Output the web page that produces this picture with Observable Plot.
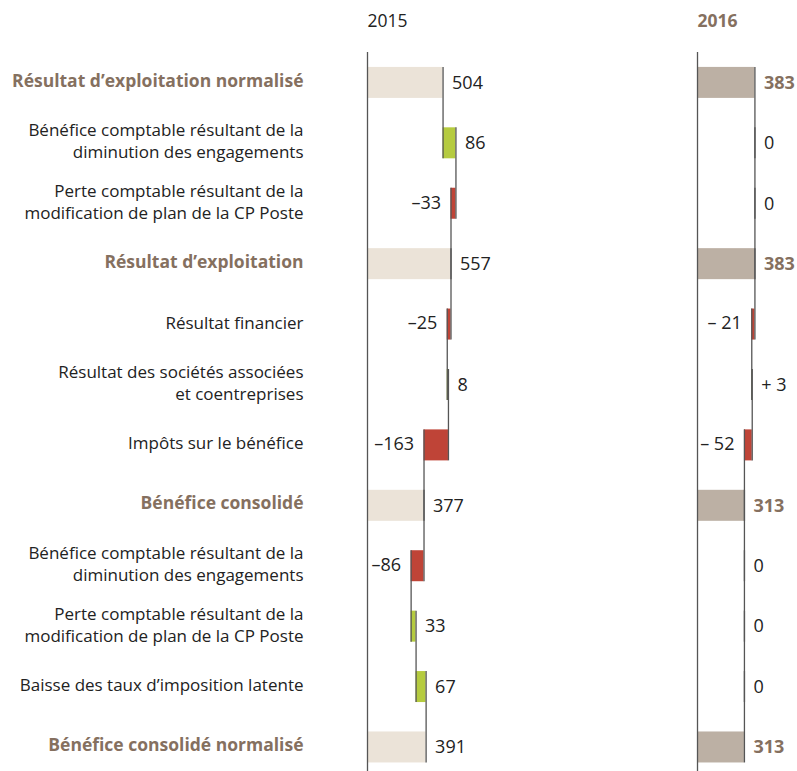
<!DOCTYPE html>
<html>
<head>
<meta charset="utf-8">
<script src="https://cdn.jsdelivr.net/npm/d3@7"></script>
<script src="https://cdn.jsdelivr.net/npm/@observablehq/plot@0.6"></script>
<style>
  html, body { margin: 0; padding: 0; background: #fff; }
  #chart { width: 797px; height: 771px; }
</style>
</head>
<body>
<div id="chart"></div>
<script>
const years = [2015, 2016];
const rowLabels = [
  "Résultat d’exploitation normalisé",
  "Bénéfice comptable résultant de la\ndiminution des engagements",
  "Perte comptable résultant de la\nmodification de plan de la CP Poste",
  "Résultat d’exploitation",
  "Résultat financier",
  "Résultat des sociétés associées\net coentreprises",
  "Impôts sur le bénéfice",
  "Bénéfice consolidé",
  "Bénéfice comptable résultant de la\ndiminution des engagements",
  "Perte comptable résultant de la\nmodification de plan de la CP Poste",
  "Baisse des taux d’imposition latente",
  "Bénéfice consolidé normalisé"
];
const isTotal = [true, false, false, true, false, false, false, true, false, false, false, true];
const values2015 = [504, 86, -33, 557, -25, 8, -163, 377, -86, 33, 67, 391];
const values2016 = [383, 0, 0, 383, -21, 3, -52, 313, 0, 0, 0, 313];

const colors = {
  total2015: "#ebe3d8",
  total2016: "#bcb0a4",
  pos: "#b5cb3f",
  neg: "#bf4437"
};
const brown = "#85705f";

// Build waterfall records
const records = [];
for (const [year, vals] of [[2015, values2015], [2016, values2016]]) {
  let run = 0;
  vals.forEach((v, i) => {
    let start, end;
    if (isTotal[i]) { start = 0; end = v; }
    else { start = run; end = run + v; }
    run = end;
    records.push({year, row: i, value: v, start, end, total: isTotal[i]});
  });
}
function fmt(d) {
  if (d.total || d.value === 0) return String(d.value);
  if (d.year === 2016) return (d.value < 0 ? "– " : "+ ") + Math.abs(d.value);
  return (d.value < 0 ? "–" : "") + Math.abs(d.value);
}
function fillOf(d) {
  if (d.total) return d.year === 2015 ? colors.total2015 : colors.total2016;
  return d.value < 0 ? colors.neg : colors.pos;
}

const connectors = records.filter(d => d.row < rowLabels.length - 1);
const labelRows = rowLabels.map((label, i) => ({year: 2015, row: i, label, total: isTotal[i]}));
const boldValue = d => d.total && d.year === 2016;

const chart = Plot.plot({
  width: 797,
  height: 771,
  marginTop: 52,
  marginBottom: 0,
  marginLeft: 367,
  marginRight: 0,
  style: {fontFamily: "'Open Sans', sans-serif", fontSize: "17px", color: "#222", background: "#fff"},
  fx: {domain: years, paddingInner: 0.697, paddingOuter: 0, align: 0, round: false, axis: null},
  x: {domain: [0, 667], axis: null},
  y: {type: "band", domain: d3.range(rowLabels.length), paddingInner: 0.487, paddingOuter: 0.194, align: 0.636, round: false, axis: null},
  marks: [
    Plot.barX(records, {fx: "year", y: "row", x1: "start", x2: "end", fill: fillOf}),
    Plot.ruleX(years, {fx: d => d, x: d => 0, stroke: "#555", strokeWidth: 1.3}),
    Plot.ruleX(connectors, {fx: "year", x: "end", y1: "row", y2: d => d.row + 1, stroke: "#555", strokeWidth: 1.3}),
    // value labels
    Plot.text(records.filter(d => (d.total || d.value >= 0) && !boldValue(d)), {
      fx: "year", y: "row", x: "end", text: fmt, textAnchor: "start", dx: 9,
      fontSize: 18, fill: "#222"
    }),
    Plot.text(records.filter(boldValue), {
      fx: "year", y: "row", x: "end", text: fmt, textAnchor: "start", dx: 9,
      fontSize: 18, fontWeight: "bold", fill: brown
    }),
    Plot.text(records.filter(d => !d.total && d.value < 0), {
      fx: "year", y: "row", x: "end", text: fmt, textAnchor: "end", dx: -10, dy: -1,
      fontSize: 18, fill: "#222"
    }),
    // row labels
    Plot.text(labelRows.filter(d => !d.total), {
      fx: "year", y: "row", frameAnchor: "left", text: "label", textAnchor: "end",
      dx: -64, dy: -3, lineHeight: 1.3, fontSize: 17, fill: "#222"
    }),
    Plot.text(labelRows.filter(d => d.total), {
      fx: "year", y: "row", frameAnchor: "left", text: "label", textAnchor: "end",
      dx: -64, dy: -2, fontSize: 17.5, fontWeight: "bold", fill: brown
    }),
    // year headers
    Plot.text(years.filter(y => y === 2015), {
      fx: d => d, frameAnchor: "top-left", lineAnchor: "middle", dy: -31, text: d => String(d),
      textAnchor: "start", fontSize: 17.5, fill: "#222"
    }),
    Plot.text(years.filter(y => y === 2016), {
      fx: d => d, frameAnchor: "top-left", lineAnchor: "middle", dy: -31, text: d => String(d),
      textAnchor: "start", fontSize: 17.5, fontWeight: "bold", fill: brown
    })
  ]
});
document.getElementById("chart").appendChild(chart);
</script>
</body>
</html>
